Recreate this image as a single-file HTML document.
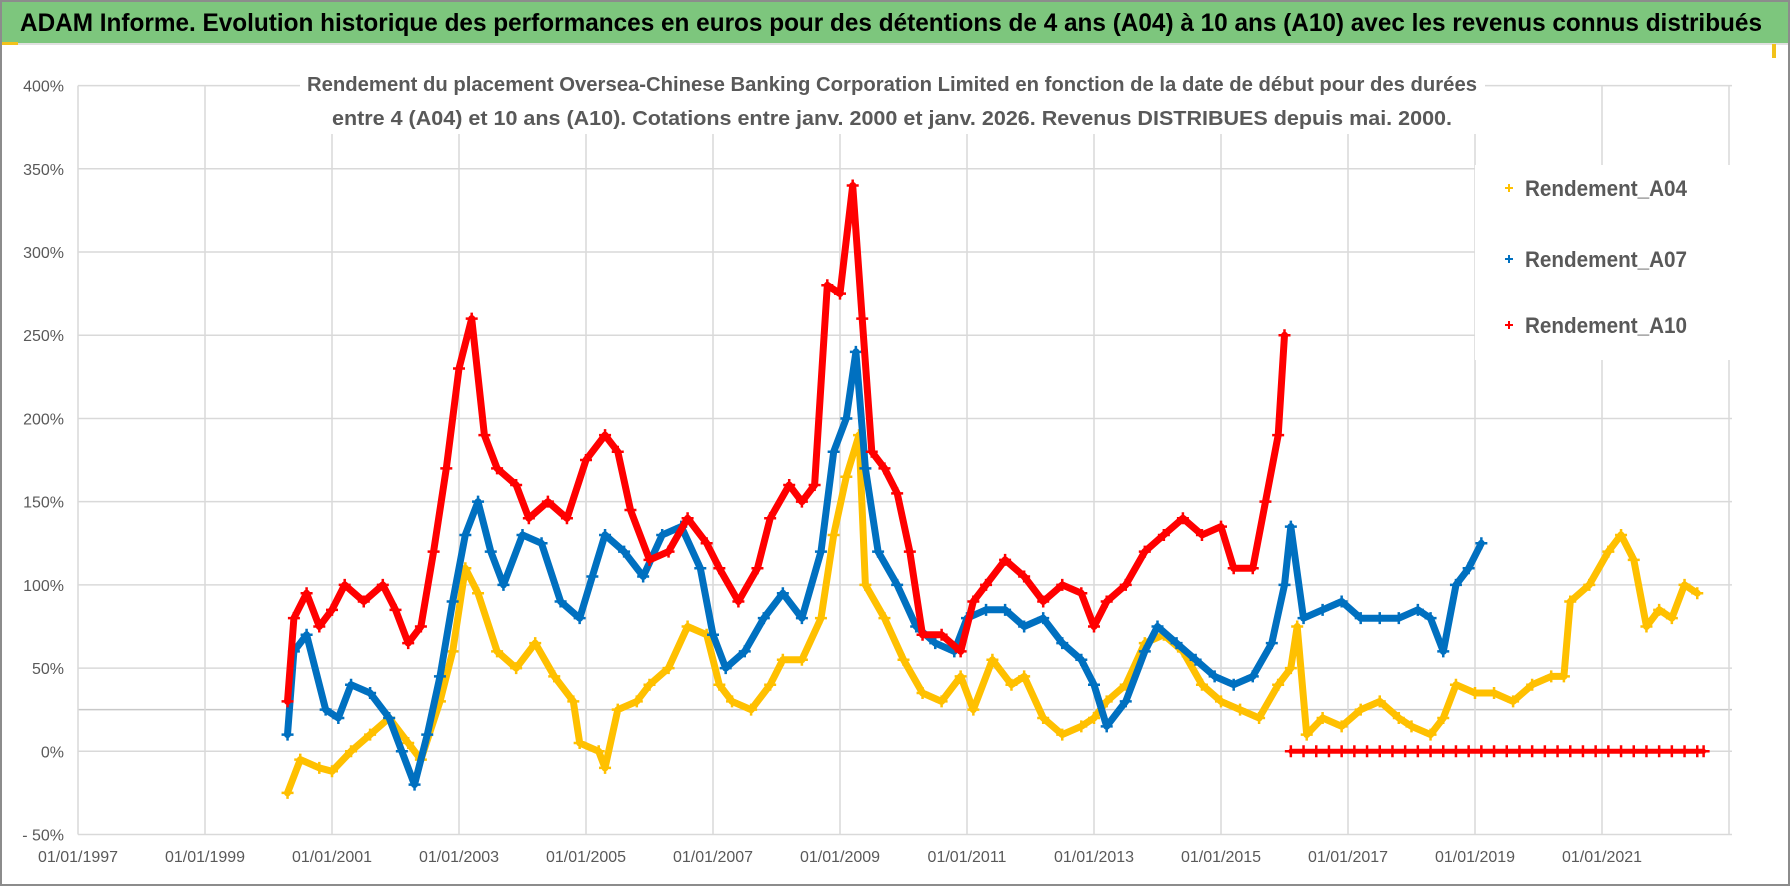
<!DOCTYPE html>
<html><head><meta charset="utf-8"><style>
html,body{margin:0;padding:0;background:#fff;}
svg{display:block;font-family:"Liberation Sans",sans-serif;}
</style></head><body>
<svg id="chart" width="1790" height="886" viewBox="0 0 1790 886" xmlns="http://www.w3.org/2000/svg">
<rect x="0" y="0" width="1790" height="886" fill="#fff"/>
<rect x="1" y="1" width="1788" height="884" fill="none" stroke="#8c8c8c" stroke-width="2"/>
<rect x="2" y="2" width="1786" height="41" fill="#7dc67d"/>
<line x1="2" y1="44" x2="1788" y2="44" stroke="#e0e0e0" stroke-width="2"/>
<rect x="2" y="42" width="16" height="3" fill="#f2c21b"/>
<rect x="1772" y="44" width="4" height="14" fill="#f2c21b"/>
<text x="20" y="31" font-size="25" font-weight="bold" fill="#000" textLength="1742" lengthAdjust="spacingAndGlyphs">ADAM Informe. Evolution historique des performances en euros pour des détentions de 4 ans (A04) à 10 ans (A10) avec les revenus connus distribués</text>
<g id="grid"></g>
<rect x="300" y="62" width="1185" height="72" fill="#fff"/>
<text x="892" y="91" text-anchor="middle" font-size="20" font-weight="bold" fill="#595959" textLength="1170" lengthAdjust="spacingAndGlyphs">Rendement du placement Oversea-Chinese Banking Corporation Limited en fonction de la date de début pour des durées</text>
<text x="892" y="125" text-anchor="middle" font-size="20" font-weight="bold" fill="#595959" textLength="1120" lengthAdjust="spacingAndGlyphs">entre 4 (A04) et 10 ans (A10). Cotations entre janv. 2000 et janv. 2026. Revenus DISTRIBUES depuis mai. 2000.</text>
<g id="series"></g>
<g id="legend">
<rect x="1475" y="165" width="270" height="195" fill="#fff"/>
</g>
<g id="axes"></g>
</svg>
<script>
const yTicks = [400,350,300,250,200,150,100,50,0,-50];
const xTickYears = [1997,1999,2001,2003,2005,2007,2009,2011,2013,2015,2017,2019,2021];
const seriesNames = ["Rendement_A04","Rendement_A07","Rendement_A10"];
const colors = ["#ffc000","#0070c0","#ff0000"];
const a04Dates = [2000.3,2000.5,2000.8,2001.0,2001.3,2001.6,2001.9,2002.2,2002.4,2002.7,2002.9,2003.1,2003.3,2003.6,2003.9,2004.2,2004.5,2004.8,2004.9,2005.2,2005.3,2005.5,2005.8,2006.0,2006.3,2006.6,2006.9,2007.1,2007.3,2007.6,2007.9,2008.1,2008.4,2008.7,2008.9,2009.1,2009.3,2009.4,2009.7,2010.0,2010.3,2010.6,2010.9,2011.1,2011.4,2011.7,2011.9,2012.2,2012.5,2012.8,2013.0,2013.2,2013.5,2013.8,2014.1,2014.4,2014.7,2015.0,2015.3,2015.6,2015.9,2016.1,2016.2,2016.35,2016.6,2016.9,2017.2,2017.5,2017.8,2018.0,2018.3,2018.5,2018.7,2019.0,2019.3,2019.6,2019.9,2020.2,2020.4,2020.5,2020.8,2021.1,2021.3,2021.5,2021.7,2021.9,2022.1,2022.3,2022.5];
const a04Values = [-25,-5,-10,-12,0,10,20,5,-5,30,60,110,95,60,50,65,45,30,5,0,-10,25,30,40,50,75,70,40,30,25,40,55,55,80,130,165,190,100,80,55,35,30,45,25,55,40,45,20,10,15,20,30,40,65,70,60,40,30,25,20,40,50,75,10,20,15,25,30,20,15,10,20,40,35,35,30,40,45,45,90,100,120,130,115,75,85,80,100,95];
const a07Dates = [2000.3,2000.4,2000.6,2000.9,2001.1,2001.3,2001.6,2001.9,2002.1,2002.3,2002.5,2002.7,2002.9,2003.1,2003.3,2003.5,2003.7,2004.0,2004.3,2004.6,2004.9,2005.1,2005.3,2005.6,2005.9,2006.2,2006.5,2006.8,2007.0,2007.2,2007.5,2007.8,2008.1,2008.4,2008.7,2008.9,2009.1,2009.25,2009.4,2009.6,2009.9,2010.2,2010.5,2010.8,2011.0,2011.3,2011.6,2011.9,2012.2,2012.5,2012.8,2013.0,2013.2,2013.5,2013.8,2014.0,2014.3,2014.6,2014.9,2015.2,2015.5,2015.8,2016.0,2016.1,2016.3,2016.6,2016.9,2017.2,2017.5,2017.8,2018.1,2018.3,2018.5,2018.7,2018.9,2019.1];
const a07Values = [10,60,70,25,20,40,35,20,0,-20,10,45,90,130,150,120,100,130,125,90,80,105,130,120,105,130,135,110,70,50,60,80,95,80,120,180,200,240,170,120,100,75,65,60,80,85,85,75,80,65,55,40,15,30,60,75,65,55,45,40,45,65,100,135,80,85,90,80,80,80,85,80,60,100,110,125];
const a10Dates = [2000.3,2000.4,2000.6,2000.8,2001.0,2001.2,2001.5,2001.8,2002.0,2002.2,2002.4,2002.6,2002.8,2003.0,2003.2,2003.4,2003.6,2003.9,2004.1,2004.4,2004.7,2005.0,2005.3,2005.5,2005.7,2006.0,2006.3,2006.6,2006.9,2007.1,2007.4,2007.7,2007.9,2008.2,2008.4,2008.6,2008.8,2009.0,2009.2,2009.35,2009.5,2009.7,2009.9,2010.1,2010.3,2010.6,2010.9,2011.1,2011.3,2011.6,2011.9,2012.2,2012.5,2012.8,2013.0,2013.2,2013.5,2013.8,2014.1,2014.4,2014.7,2015.0,2015.2,2015.5,2015.7,2015.9,2016.0];
const a10Values = [30,80,95,75,85,100,90,100,85,65,75,120,170,230,260,190,170,160,140,150,140,175,190,180,145,115,120,140,125,110,90,110,140,160,150,160,280,275,340,260,180,170,155,120,70,70,60,90,100,115,105,90,100,95,75,90,100,120,130,140,130,135,110,110,150,190,250];
const zeroDates = [2016.1,2016.3,2016.5,2016.7,2016.9,2017.1,2017.3,2017.5,2017.7,2017.9,2018.1,2018.3,2018.5,2018.7,2018.9,2019.1,2019.3,2019.5,2019.7,2019.9,2020.1,2020.3,2020.5,2020.7,2020.9,2021.1,2021.3,2021.5,2021.7,2021.9,2022.1,2022.3,2022.5,2022.6];
const zeroValues = [0,0,0,0,0,0,0,0,0,0,0,0,0,0,0,0,0,0,0,0,0,0,0,0,0,0,0,0,0,0,0,0,0,0];

const NS="http://www.w3.org/2000/svg";
const X0=78, YR=63.5, Y400=85.6, Y_50=834.5;
function xScale(yr){return X0+(yr-1997)*YR;}
function yScale(v){return Y400+(400-v)*(Y_50-Y400)/450;}
function mk(tag,attrs,parent){const e=document.createElementNS(NS,tag);for(const k in attrs)e.setAttribute(k,attrs[k]);parent.appendChild(e);return e;}
const grid=document.getElementById('grid'), axes=document.getElementById('axes'), ser=document.getElementById('series'), leg=document.getElementById('legend');
const xRight=1732;
yTicks.forEach(t=>{
  const l=mk('line',{x1:X0,x2:xRight,y1:yScale(t),y2:yScale(t),stroke:'#d9d9d9','stroke-width':1.5},grid);
  
  
  const tx=mk('text',{x:64,y:yScale(t)+6,'text-anchor':'end','font-size':16,fill:'#595959'},axes);
  
  
  tx.textContent=(t<0?'- '+(-t):t)+'%';
});
const l25=mk('line',{x1:X0,x2:xRight,y1:yScale(25),y2:yScale(25),stroke:'#c8c8c8','stroke-width':1.5},grid);


for(let yr=1997;yr<=2023;yr+=2){
  const l=mk('line',{x1:xScale(yr),x2:xScale(yr),y1:Y400,y2:Y_50,stroke:'#d9d9d9','stroke-width':1.5},grid);
  
  
}
xTickYears.forEach(yr=>{
  const tx=mk('text',{x:xScale(yr),y:862,'text-anchor':'middle','font-size':16,fill:'#595959'},axes);
  
  
  tx.textContent='01/01/'+yr;
});
function drawSeries(dates,vals,color,name,w){
  const g=mk('g',{},ser);
  
  
  const pts=dates.map((d,i)=>xScale(d).toFixed(1)+','+yScale(vals[i]).toFixed(1)).join(' ');
  mk('polyline',{points:pts,fill:'none',stroke:color,'stroke-width':w,'stroke-linejoin':'round','stroke-linecap':'round'},g);
  dates.forEach((d,i)=>{
    const x=xScale(d), y=yScale(vals[i]);
    const p=mk('path',{d:`M${x-6},${y}h12M${x},${y-6}v12`,stroke:color,'stroke-width':2.5},g);
    
    
  });
}
drawSeries(a04Dates,a04Values,colors[0],'series-a04',7);
drawSeries(a07Dates,a07Values,colors[1],'series-a07',7);
drawSeries(a10Dates,a10Values,colors[2],'series-a10',7);
drawSeries(zeroDates,zeroValues,colors[2],'series-a10-zero',5);
const legY=[188,259,325];
seriesNames.forEach((n,i)=>{
  const m=mk('path',{d:`M${1505},${legY[i]}h8M${1509},${legY[i]-4}v8`,stroke:colors[i],'stroke-width':2},leg);
  
  
  const t=mk('text',{x:1525,y:legY[i]+8,'font-size':22,'font-weight':'bold',fill:'#595959',textLength:162,lengthAdjust:'spacingAndGlyphs'},leg);
  
  
  t.textContent=n;
});
</script>
</body></html>
